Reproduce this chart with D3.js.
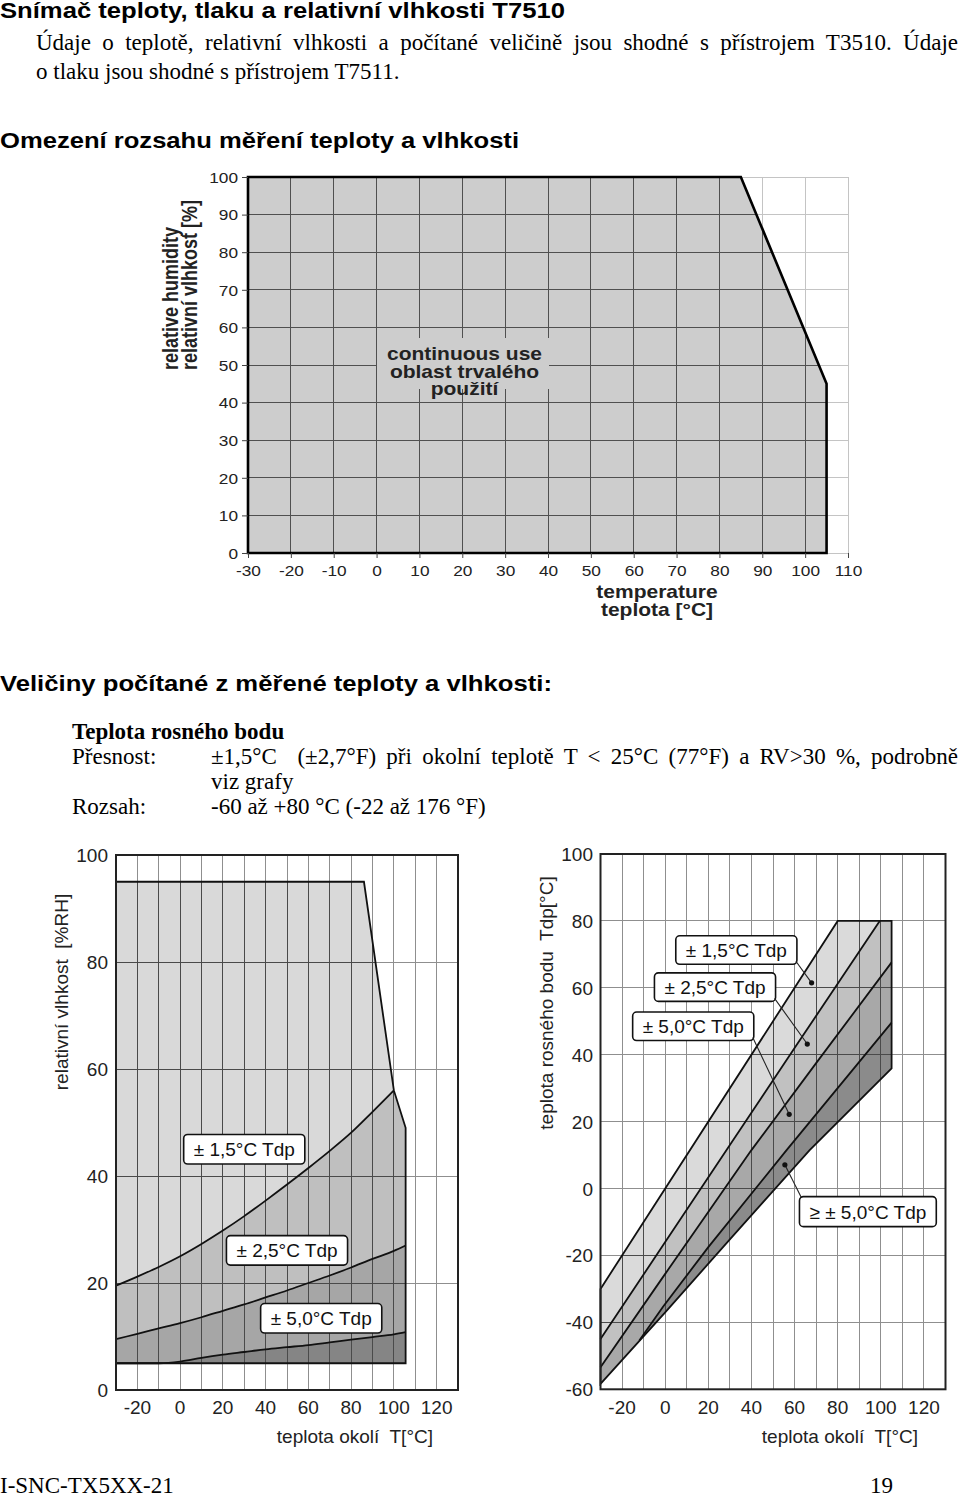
<!DOCTYPE html>
<html lang="cs">
<head>
<meta charset="utf-8">
<title>T7510</title>
<script src="https://cdn.jsdelivr.net/npm/d3@7"></script>
<style>
  body { margin: 0; background: #fff; }
  svg { display: block; }
</style>
</head>
<body>
<div id="page"></div>
<script>
// ---- page text ----
const heading1 = "Snímač teploty, tlaku a relativní vlhkosti T7510";
const introLines = [
  "Údaje o teplotě, relativní vlhkosti a počítané veličině jsou shodné s přístrojem T3510. Údaje",
  "o tlaku jsou shodné s přístrojem T7511."
];
const heading2 = "Omezení rozsahu měření teploty a vlhkosti";
const heading3 = "Veličiny počítané z měřené teploty a vlhkosti:";
const dewHeading = "Teplota rosného bodu";
const specLabels = ["Přesnost:", "", "Rozsah:"];
const specValues = [
  "±1,5°C  (±2,7°F) při okolní teplotě T < 25°C (77°F) a RV>30 %, podrobně",
  "viz grafy",
  "-60 až +80 °C (-22 až 176 °F)"
];
const footerLeft = "I-SNC-TX5XX-21";
const footerRight = "19";

// ---- chart 1: continuous use range ----
const useT  = [-30, -30, 85, 105, 105];
const useRH = [0, 100, 100, 45, 0];
const useTempTicks = [-30, -20, -10, 0, 10, 20, 30, 40, 50, 60, 70, 80, 90, 100, 110];
const useRhTicks = [0, 10, 20, 30, 40, 50, 60, 70, 80, 90, 100];
const useLabel = ["continuous use", "oblast trvalého", "použití"];
const useXTitle = ["temperature", "teplota [°C]"];
const useYTitle = ["relative humidity", "relativní vlhkost [%]"];

// ---- chart 2: dew point accuracy vs RH ----
const accLimitT  = [-30, -30, 86, 100, 105.5, 105.5];
const accLimitRH = [5, 95, 95, 56, 49, 5];
const accT  = [-30, -20, -10, 0, 10, 20, 30, 40, 50, 60, 70, 80, 90, 100, 105.5];
const rh15  = [19.5, 21.2, 23, 25, 27.3, 29.8, 32.5, 35.4, 38.4, 41.5, 44.7, 48.1, 52, 56];
const rh25  = [9.5, 10.5, 11.5, 12.5, 13.6, 14.8, 16, 17.3, 18.6, 20, 21.4, 22.9, 24.5, 26, 27];
const rh50  = [5, 5, 5, 5.3, 6, 6.6, 7.1, 7.6, 8, 8.4, 8.9, 9.4, 9.9, 10.4, 10.8];
const accTempTicks = [-20, 0, 20, 40, 60, 80, 100, 120];
const accRhTicks = [0, 20, 40, 60, 80, 100];
const accGridT = [-20, -10, 0, 10, 20, 30, 40, 50, 60, 70, 80, 90, 100, 110, 120];
const accGridRH = [20, 40, 60, 80];
const accLabels = ["± 1,5°C Tdp", "± 2,5°C Tdp", "± 5,0°C Tdp"];

// ---- chart 3: dew point accuracy vs Tdp ----
const tdpSat    = [[-30, -30], [80, 80]];
const tdpTop    = [[80, 80], [105, 80]];
const tdpRight  = [[105, 80], [105, 35.9]];
const tdpBottom = [[-30, -58.4], [0, -37], [30, -15.2], [67, 11.5], [105, 35.9]];
const tdp25     = [[-30, -45], [0, -16], [30, 13], [60, 42], [99.5, 80]];
const tdp50     = [[-30, -53.4], [0, -25.5], [40, 11.5], [70, 37.5], [105, 67.6]];
const tdpOver   = [[-12, -45.4], [-1, -35.3], [20, -17.5], [56.3, 11.5], [105, 49.6]];
const tdpTempTicks = [-20, 0, 20, 40, 60, 80, 100, 120];
const tdpTicks = [-60, -40, -20, 0, 20, 40, 60, 80, 100];
const tdpGridT = [-20, -10, 0, 10, 20, 30, 40, 50, 60, 70, 80, 90, 100, 110, 120];
const tdpGridTd = [-40, -20, 0, 20, 40, 60, 80];
const tdpLabels = ["± 1,5°C Tdp", "± 2,5°C Tdp", "± 5,0°C Tdp", "≥ ± 5,0°C Tdp"];
const tdpMarkers = [[67.9, 61.5], [65.9, 43.2], [57.5, 22.2], [55.5, 7.1]];

// ------------------------------------------------------------------
const W = 960, H = 1497;
const SANS = '"Liberation Sans", Arial, Helvetica, sans-serif';
const SERIF = '"Liberation Serif", "Times New Roman", Times, serif';
const SX_TICK = 1.15;  // the first chart is a horizontally stretched drawing
const SX_BOLD = 1.2;

const svg = d3.select("#page").append("svg").attr("width", W).attr("height", H);
svg.append("rect").attr("width", W).attr("height", H).attr("fill", "#fff");
const defs = svg.append("defs");

// ---- page text ----
function heading(text, y, width) {
  svg.append("text")
    .attr("x", 0).attr("y", y)
    .attr("font-family", SANS).attr("font-weight", "bold").attr("font-size", 21.5)
    .attr("textLength", width).attr("lengthAdjust", "spacingAndGlyphs")
    .attr("fill", "#000")
    .text(text);
}
function serifLine(text, x, y, opts = {}) {
  const t = svg.append("text")
    .attr("x", x).attr("y", y)
    .attr("font-family", SERIF).attr("font-size", 23)
    .attr("font-weight", opts.bold ? "bold" : "normal")
    .style("white-space", "pre")
    .text(text);
  if (opts.justifyTo) {
    const natural = t.node().getComputedTextLength();
    const gaps = (text.match(/ /g) || []).length;
    t.style("word-spacing", ((opts.justifyTo - x - natural) / gaps) + "px");
  }
  return t;
}

heading(heading1, 17.5, 565);
serifLine(introLines[0], 36, 50, {justifyTo: 958});
serifLine(introLines[1], 36, 79);
heading(heading2, 147.5, 519);
heading(heading3, 691, 552);

serifLine(dewHeading, 72, 739, {bold: true});
const specY = [764, 789, 814];
specY.forEach((y, i) => {
  if (specLabels[i]) serifLine(specLabels[i], 72, y);
  serifLine(specValues[i], 211, y, i === 0 ? {justifyTo: 958} : {});
});
serifLine(footerLeft, 0, 1493);
serifLine(footerRight, 870, 1493);

// ---- helpers ----
const lineOf = (xs, ys) => d3.line().x(d => xs(d[0])).y(d => ys(d[1]));

function drawGrid(g, xs, ys, xVals, yVals, color, clipId) {
  const gg = g.append("g")
    .attr("stroke", color).attr("stroke-width", 1)
    .attr("shape-rendering", "crispEdges");
  if (clipId) gg.attr("clip-path", `url(#${clipId})`);
  const [yb, yt] = ys.range();
  const [xl, xr] = xs.range();
  gg.selectAll("line.v").data(xVals).join("line").attr("class", "v")
    .attr("x1", d => xs(d)).attr("x2", d => xs(d)).attr("y1", yb).attr("y2", yt);
  gg.selectAll("line.h").data(yVals).join("line").attr("class", "h")
    .attr("x1", xl).attr("x2", xr).attr("y1", d => ys(d)).attr("y2", d => ys(d));
}

function labelBox(g, text, cx, cy, h) {
  const grp = g.append("g");
  const rect = grp.append("rect").attr("fill", "#fff").attr("stroke", "#111")
    .attr("stroke-width", 1.6).attr("rx", 4);
  const t = grp.append("text").attr("x", cx).attr("y", cy + 7)
    .attr("text-anchor", "middle").attr("font-family", SANS).attr("font-size", 19)
    .attr("fill", "#111").text(text);
  const w = t.node().getComputedTextLength() + 20;
  rect.attr("x", cx - w / 2).attr("y", cy - h / 2).attr("width", w).attr("height", h);
  return {x0: cx - w / 2, x1: cx + w / 2, y0: cy - h / 2, y1: cy + h / 2};
}

// ==================================================================
// Chart 1 – continuous use area
// ==================================================================
{
  const xs = d3.scaleLinear().domain([-30, 110]).range([248, 848]);
  const ys = d3.scaleLinear().domain([0, 100]).range([553, 177]);
  const g = svg.append("g");
  const pts = useT.map((t, i) => [t, useRH[i]]);
  const polyD = lineOf(xs, ys)(pts) + "Z";

  defs.append("clipPath").attr("id", "clipUse").append("path").attr("d", polyD);

  drawGrid(g, xs, ys, useTempTicks, useRhTicks, "#c4c4c4");
  g.append("path").attr("d", polyD).attr("fill", "#cdcdcd");
  drawGrid(g, xs, ys, useTempTicks, useRhTicks, "#505050", "clipUse");

  // area label with its own background
  g.append("rect").attr("x", 377).attr("y", 338).attr("width", 172).attr("height", 51)
    .attr("fill", "#cdcdcd");
  const lblY = [360, 377.5, 395];
  useLabel.forEach((s, i) => {
    g.append("text")
      .attr("transform", `translate(464.5,${lblY[i]}) scale(${SX_BOLD},1)`)
      .attr("text-anchor", "middle").attr("font-family", SANS).attr("font-weight", "bold")
      .attr("font-size", 17.5).attr("fill", "#222").text(s);
  });

  g.append("path").attr("d", polyD).attr("fill", "none")
    .attr("stroke", "#000").attr("stroke-width", 2.6).attr("stroke-linejoin", "miter");

  const xAx = g.append("g").attr("transform", `translate(0,${ys(0)})`)
    .call(d3.axisBottom(xs).tickValues(useTempTicks).tickSize(5).tickFormat(d => String(d)));
  xAx.select(".domain").remove();
  xAx.attr("font-family", SANS).attr("font-size", 15);
  xAx.selectAll("line").attr("stroke", "#444");
  xAx.selectAll("text").attr("y", 23).attr("dy", null).attr("fill", "#222")
    .attr("transform", `scale(${SX_TICK},1)`);

  const yAx = g.append("g").attr("transform", `translate(${xs(-30)},0)`)
    .call(d3.axisLeft(ys).tickValues(useRhTicks).tickSize(6).tickFormat(d => String(d)));
  yAx.select(".domain").remove();
  yAx.attr("font-family", SANS).attr("font-size", 15);
  yAx.selectAll("line").attr("stroke", "#444");
  yAx.selectAll("text").attr("x", -10 / SX_TICK).attr("y", 5.3).attr("dy", null).attr("fill", "#222")
    .attr("transform", `scale(${SX_TICK},1)`);

  const xtY = [598, 615.5];
  useXTitle.forEach((s, i) => {
    g.append("text")
      .attr("transform", `translate(657,${xtY[i]}) scale(${SX_BOLD},1)`)
      .attr("text-anchor", "middle").attr("font-family", SANS).attr("font-weight", "bold")
      .attr("font-size", 17.5).attr("fill", "#222").text(s);
  });
  const ytX = [177.5, 196.5];
  useYTitle.forEach((s, i) => {
    g.append("text")
      .attr("transform", `translate(${ytX[i]},370) scale(1.22,1) rotate(-90)`)
      .attr("text-anchor", "start").attr("font-family", SANS).attr("font-weight", "bold")
      .attr("font-size", 18).attr("fill", "#222").text(s);
  });
}

// ==================================================================
// Chart 2 – accuracy areas in T / RH
// ==================================================================
{
  const xs = d3.scaleLinear().domain([-30, 130]).range([116, 458]);
  const ys = d3.scaleLinear().domain([0, 100]).range([1390, 855]);
  const g = svg.append("g");
  const limit = accLimitT.map((t, i) => [t, accLimitRH[i]]);
  const polyD = lineOf(xs, ys)(limit) + "Z";
  const c15 = rh15.map((v, i) => [accT[i], v]);
  const c25 = rh25.map((v, i) => [accT[i], v]);
  const c50 = rh50.map((v, i) => [accT[i], v]);

  defs.append("clipPath").attr("id", "clipAcc").append("path").attr("d", polyD);

  drawGrid(g, xs, ys, accGridT, accGridRH, "#8f8f8f");

  const fills = g.append("g");
  fills.append("path").attr("d", polyD).attr("fill", "#bfbfbf");
  const above = d3.area().x(d => xs(d[0])).y0(ys(100)).y1(d => ys(d[1])).curve(d3.curveMonotoneX);
  const below = d3.area().x(d => xs(d[0])).y0(ys(0)).y1(d => ys(d[1])).curve(d3.curveMonotoneX);
  fills.append("path").attr("d", above(c15)).attr("fill", "#d9d9d9").attr("clip-path", "url(#clipAcc)");
  fills.append("path").attr("d", below(c25)).attr("fill", "#a6a6a6").attr("clip-path", "url(#clipAcc)");
  fills.append("path").attr("d", below(c50)).attr("fill", "#858585").attr("clip-path", "url(#clipAcc)");

  drawGrid(g, xs, ys, accGridT, accGridRH, "#4a4a4a", "clipAcc");

  const curve = d3.line().x(d => xs(d[0])).y(d => ys(d[1])).curve(d3.curveMonotoneX);
  [c15, c25, c50].forEach(c => {
    g.append("path").attr("d", curve(c)).attr("fill", "none")
      .attr("stroke", "#111").attr("stroke-width", 1.8);
  });
  g.append("path").attr("d", polyD).attr("fill", "none")
    .attr("stroke", "#111").attr("stroke-width", 1.8);

  g.append("rect").attr("x", xs(-30)).attr("y", ys(100))
    .attr("width", xs(130) - xs(-30)).attr("height", ys(0) - ys(100))
    .attr("fill", "none").attr("stroke", "#222").attr("stroke-width", 2);

  g.selectAll("text.xt").data(accTempTicks).join("text").attr("class", "xt")
    .attr("x", d => xs(d)).attr("y", 1414).attr("text-anchor", "middle")
    .attr("font-family", SANS).attr("font-size", 19).attr("fill", "#222").text(d => String(d));
  g.selectAll("text.yt").data(accRhTicks).join("text").attr("class", "yt")
    .attr("x", 108).attr("y", d => ys(d) + 7).attr("text-anchor", "end")
    .attr("font-family", SANS).attr("font-size", 19).attr("fill", "#222").text(d => String(d));

  g.append("text").attr("transform", "translate(68,992) rotate(-90)")
    .attr("text-anchor", "middle").attr("font-family", SANS).attr("font-size", 19)
    .attr("fill", "#222").style("white-space", "pre").text("relativní vlhkost  [%RH]");
  g.append("text").attr("x", 433).attr("y", 1443).attr("text-anchor", "end")
    .attr("font-family", SANS).attr("font-size", 19).attr("fill", "#222")
    .style("white-space", "pre").text("teplota okolí  T[°C]");

  const accLabelAt = [[30, 45], [50, 26.1], [66, 13.4]];
  accLabels.forEach((s, i) => labelBox(g, s, xs(accLabelAt[i][0]), ys(accLabelAt[i][1]), 29.5));
}

// ==================================================================
// Chart 3 – accuracy bands in T / Tdp
// ==================================================================
{
  const xs = d3.scaleLinear().domain([-30, 130]).range([600.5, 945.5]);
  const ys = d3.scaleLinear().domain([-60, 100]).range([1389.3, 854]);
  const g = svg.append("g");
  const ln = lineOf(xs, ys);
  const tdMin = ys.domain()[0];
  const tRight = tdpRight[0][0];

  const band = [...tdpSat, tdpTop[1], ...tdpBottom.slice().reverse()];
  const bandD = ln(band) + "Z";
  defs.append("clipPath").attr("id", "clipTdp").append("path").attr("d", bandD);

  drawGrid(g, xs, ys, tdpGridT, tdpGridTd, "#8f8f8f");

  g.append("path").attr("d", bandD).attr("fill", "#dadada");
  const under = (pts, extra) => ln([...pts, ...extra, [tRight, tdMin], [pts[0][0], tdMin]]) + "Z";
  g.append("path").attr("d", under(tdp25, [tdpTop[1]])).attr("fill", "#c1c1c1").attr("clip-path", "url(#clipTdp)");
  g.append("path").attr("d", under(tdp50, [])).attr("fill", "#a8a8a8").attr("clip-path", "url(#clipTdp)");
  g.append("path").attr("d", under(tdpOver, [])).attr("fill", "#8b8b8b").attr("clip-path", "url(#clipTdp)");

  drawGrid(g, xs, ys, tdpGridT, tdpGridTd, "#4a4a4a", "clipTdp");

  [tdp25, tdp50, tdpOver].forEach(p => {
    g.append("path").attr("d", ln(p)).attr("fill", "none")
      .attr("stroke", "#111").attr("stroke-width", 1.8);
  });
  g.append("path").attr("d", bandD).attr("fill", "none")
    .attr("stroke", "#111").attr("stroke-width", 1.8);

  g.append("rect").attr("x", xs(-30)).attr("y", ys(100))
    .attr("width", xs(130) - xs(-30)).attr("height", ys(-60) - ys(100))
    .attr("fill", "none").attr("stroke", "#222").attr("stroke-width", 2);

  g.selectAll("text.xt").data(tdpTempTicks).join("text").attr("class", "xt")
    .attr("x", d => xs(d)).attr("y", 1414).attr("text-anchor", "middle")
    .attr("font-family", SANS).attr("font-size", 19).attr("fill", "#222").text(d => String(d));
  g.selectAll("text.yt").data(tdpTicks).join("text").attr("class", "yt")
    .attr("x", 593).attr("y", d => ys(d) + 7).attr("text-anchor", "end")
    .attr("font-family", SANS).attr("font-size", 19).attr("fill", "#222").text(d => String(d));

  g.append("text").attr("transform", "translate(553,1003) rotate(-90)")
    .attr("text-anchor", "middle").attr("font-family", SANS).attr("font-size", 19)
    .attr("fill", "#222").style("white-space", "pre").text("teplota rosného bodu  Tdp[°C]");
  g.append("text").attr("x", 918).attr("y", 1443).attr("text-anchor", "end")
    .attr("font-family", SANS).attr("font-size", 19).attr("fill", "#222")
    .style("white-space", "pre").text("teplota okolí  T[°C]");

  // callouts: box, leader line from a box corner, dot on the band
  const tdpLabelAt = [[33, 71.3], [23.1, 60.2], [13, 48.5], [94, -6.9]];
  tdpLabels.forEach((s, i) => {
    const b = labelBox(g, s, xs(tdpLabelAt[i][0]), ys(tdpLabelAt[i][1]), i === 3 ? 30 : 28.5);
    const m = tdpMarkers[i];
    const start = i === 3 ? [b.x0 + 2, b.y0 + 1] : [b.x1 - 1, b.y1 - 3];
    g.append("line").attr("x1", start[0]).attr("y1", start[1])
      .attr("x2", xs(m[0])).attr("y2", ys(m[1]))
      .attr("stroke", "#222").attr("stroke-width", 1.1);
    g.append("circle").attr("cx", xs(m[0])).attr("cy", ys(m[1])).attr("r", 2.6).attr("fill", "#111");
  });
}
</script>
</body>
</html>
